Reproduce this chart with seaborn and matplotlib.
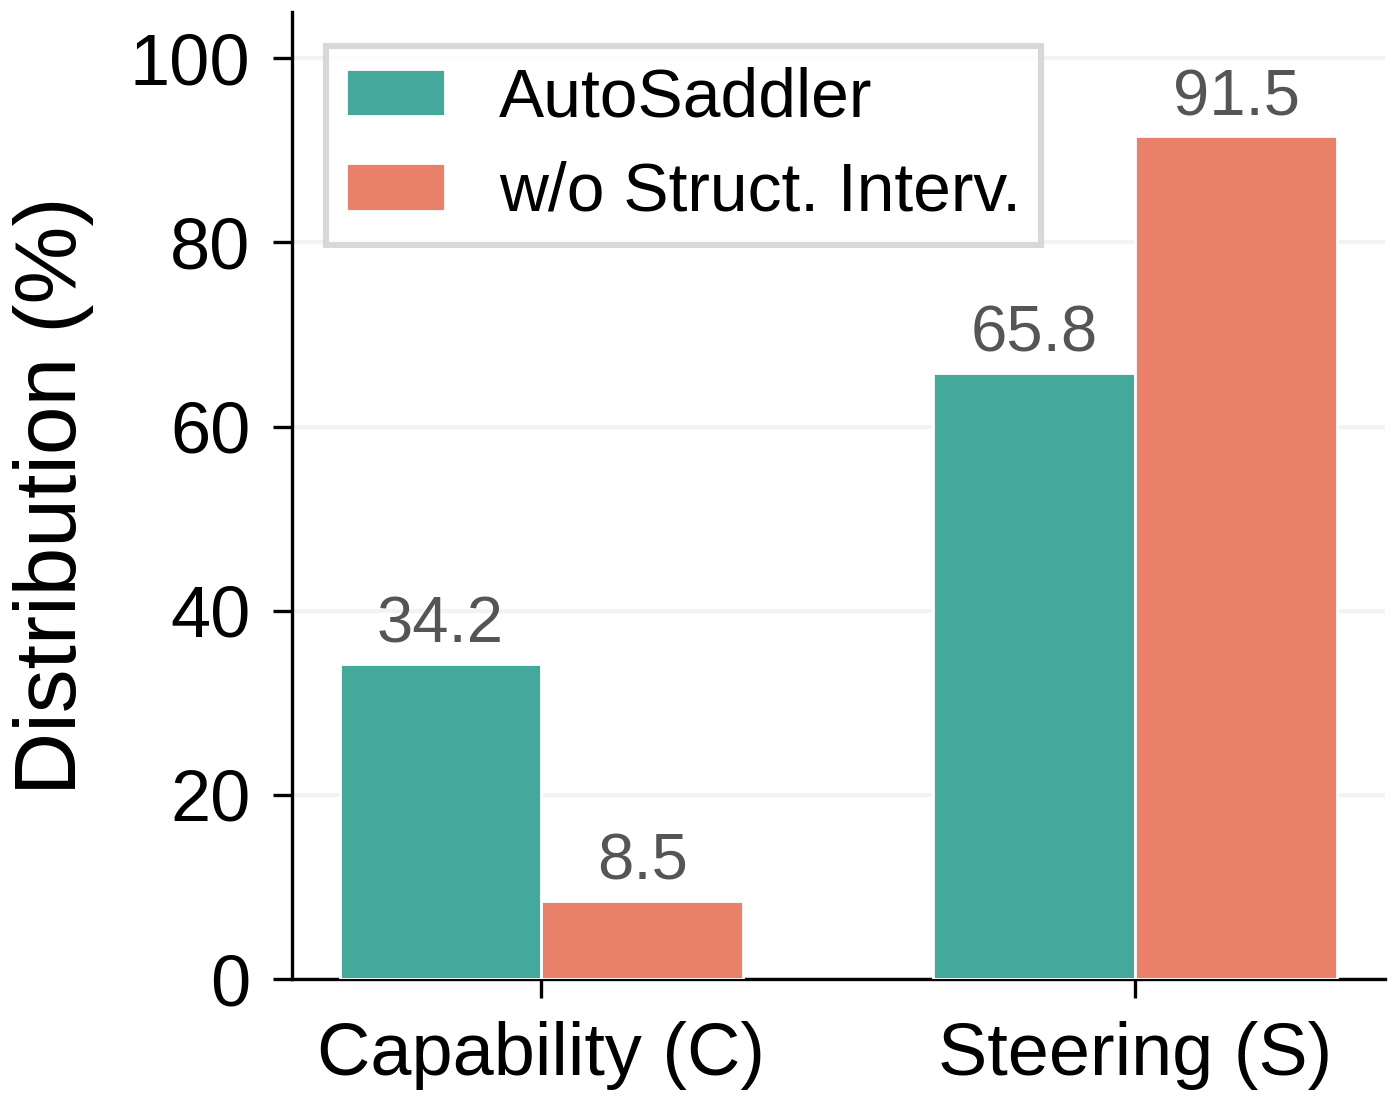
import matplotlib
matplotlib.use("Agg")
import matplotlib.pyplot as plt
import seaborn as sns
import pandas as pd

# data
categories = ["Capability (C)", "Steering (S)"]
methods = ["AutoSaddler", "w/o Struct. Interv."]
autosaddler_vals = [34.2, 65.8]
wo_struct_vals = [8.5, 91.5]
palette = ["#44A89B", "#E9806A"]

df = pd.DataFrame({
    "category": categories * 2,
    "method": [methods[0]] * 2 + [methods[1]] * 2,
    "value": autosaddler_vals + wo_struct_vals,
})

sns.set_theme(style="ticks")
plt.rcParams["font.family"] = ["Liberation Sans", "DejaVu Sans"]
plt.rcParams["text.color"] = "black"
plt.rcParams["axes.labelcolor"] = "black"

fig = plt.figure(figsize=(7, 5.54), dpi=200)
ax = fig.add_axes([0.2086, 0.1164, 0.7804, 0.8726])

sns.barplot(
    data=df, x="category", y="value", hue="method",
    palette=palette, saturation=1, width=0.68, edgecolor="white", linewidth=1.0,
    zorder=3, ax=ax,
)

for container in ax.containers:
    ax.bar_label(container, fmt="%.1f", fontsize=23.5, color="#555555", padding=3)

ax.set_ylim(0, 105)
ax.set_xlim(-0.42, 1.42)
ax.set_yticks([0, 20, 40, 60, 80, 100])
ax.yaxis.grid(True, color="#f3f3f3", linewidth=1.5, zorder=0)
ax.set_axisbelow(True)

ax.set_xlabel("")
ax.set_ylabel("Distribution (%)", fontsize=31.5, labelpad=13)
ax.tick_params(axis="y", labelsize=26)
ax.tick_params(axis="x", labelsize=26.6)
ax.tick_params(axis="both", length=7, width=1.2, color="black",
               labelcolor="black", pad=8)

sns.despine(ax=ax)
for side in ["left", "bottom"]:
    ax.spines[side].set_linewidth(1.2)
    ax.spines[side].set_color("black")

leg = ax.legend(
    loc="upper left", fontsize=24.4, frameon=True, fancybox=False,
    handlelength=1.45, handleheight=0.7, handletextpad=0.8,
    labelspacing=0.45, borderpad=0.3,
)
leg.get_frame().set_edgecolor("#cfcfcf")
leg.get_frame().set_linewidth(2.2)
for txt in leg.get_texts():
    txt.set_color("black")

fig.savefig("out.png", dpi=200)
